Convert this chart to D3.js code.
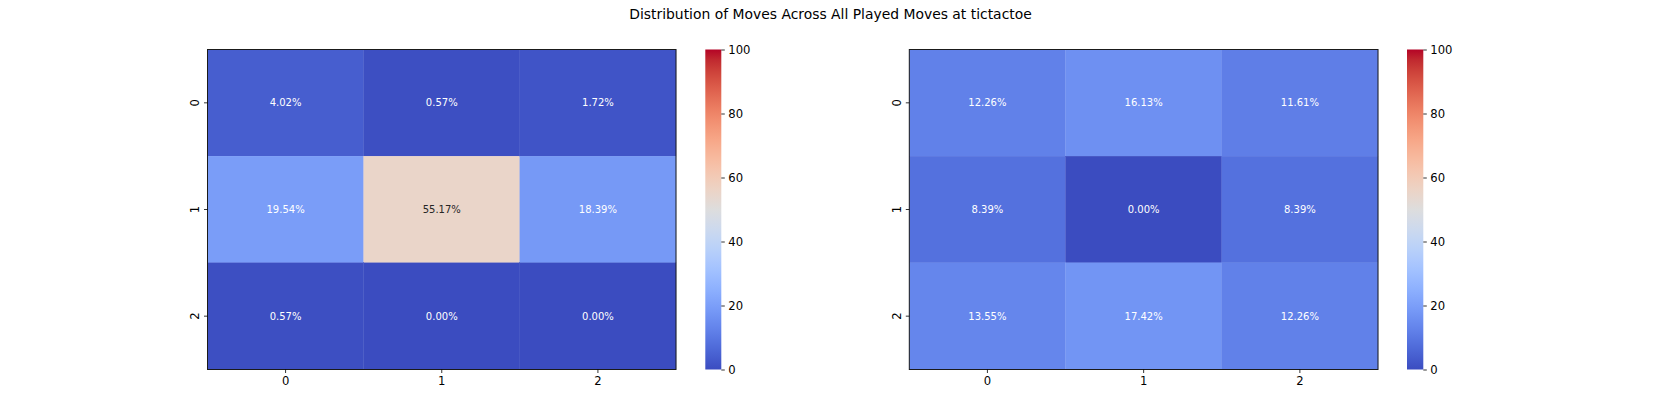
<!DOCTYPE html>
<html>
<head>
<meta charset="utf-8">
<script src="https://cdn.jsdelivr.net/npm/d3@7"></script>
<style>
  html, body { margin: 0; padding: 0; background: #fff; }
  svg { display: block; font-family: "DejaVu Sans", sans-serif; }
</style>
</head>
<body>
<svg id="chart" width="1661" height="415"></svg>
<script>
const title = "Distribution of Moves Across All Played Moves at tictactoe";
const rowLabels = ["0", "1", "2"];
const colLabels = ["0", "1", "2"];
const leftValues = [
  [4.02, 0.57, 1.72],
  [19.54, 55.17, 18.39],
  [0.57, 0.00, 0.00]
];
const rightValues = [
  [12.26, 16.13, 11.61],
  [8.39, 0.00, 8.39],
  [13.55, 17.42, 12.26]
];
const colorbarTicks = [0, 20, 40, 60, 80, 100];

// coolwarm colormap (Moreland) stops
const coolwarmStops = [
  [59,76,192],[68,90,204],[77,104,215],[87,117,225],[98,130,234],[108,142,241],
  [119,154,247],[130,165,251],[141,176,254],[152,185,255],[163,194,255],[174,201,253],
  [184,208,249],[194,213,244],[204,217,238],[213,219,230],[221,221,221],[229,216,209],
  [236,211,197],[241,204,185],[245,196,173],[247,187,160],[247,177,148],[247,166,135],
  [244,154,123],[241,141,111],[236,127,99],[229,112,88],[222,96,77],[213,80,66],
  [203,62,56],[192,40,47],[180,4,38]
].map(c => d3.rgb(c[0], c[1], c[2]).toString());
const coolwarm = d3.scaleLinear()
  .domain(coolwarmStops.map((_, i) => i / (coolwarmStops.length - 1)))
  .range(coolwarmStops)
  .interpolate(d3.interpolateRgb)
  .clamp(true);
const color = v => coolwarm(v / 100);

const svg = d3.select("#chart");

svg.append("text")
  .attr("x", 830.5).attr("y", 14)
  .attr("text-anchor", "middle").attr("dominant-baseline", "central")
  .attr("font-size", "13.9px").attr("fill", "#000")
  .text(title);

function luminance(c) {
  const rgb = d3.rgb(c);
  const f = x => { x /= 255; return x <= 0.03928 ? x / 12.92 : Math.pow((x + 0.055) / 1.055, 2.4); };
  return 0.2126 * f(rgb.r) + 0.7152 * f(rgb.g) + 0.0722 * f(rgb.b);
}

function drawHeatmap(values, x0, x1, cbX0, cbX1, gid) {
  const top = 49.5, bottom = 369.5;
  const g = svg.append("g").attr("id", gid);
  const x = d3.scaleBand().domain(colLabels).range([x0, x1]).padding(0);
  const y = d3.scaleBand().domain(rowLabels).range([top, bottom]).padding(0);

  const cells = [];
  values.forEach((row, r) => row.forEach((v, c) => cells.push({ r: rowLabels[r], c: colLabels[c], v })));

  g.selectAll("rect.cell").data(cells).enter().append("rect")
    .attr("class", "cell")
    .attr("x", d => x(d.c)).attr("y", d => y(d.r))
    .attr("width", x.bandwidth()).attr("height", y.bandwidth())
    .attr("fill", d => color(d.v))
    .attr("stroke", d => color(d.v)).attr("stroke-width", 0.3);

  g.selectAll("text.annot").data(cells).enter().append("text")
    .attr("class", "annot")
    .attr("x", d => x(d.c) + x.bandwidth() / 2)
    .attr("y", d => y(d.r) + y.bandwidth() / 2)
    .attr("text-anchor", "middle").attr("dominant-baseline", "central")
    .attr("font-size", "10px")
    .attr("fill", d => luminance(color(d.v)) > 0.408 ? "#262626" : "#ffffff")
    .text(d => d.v.toFixed(2) + "%");

  // frame
  g.append("rect")
    .attr("x", x0).attr("y", top).attr("width", x1 - x0).attr("height", bottom - top)
    .attr("fill", "none").attr("stroke", "#1a1a1a").attr("stroke-width", 1);

  // axes
  const xAxis = d3.axisBottom(x).tickSize(3.5).tickPadding(3.5);
  const gx = g.append("g").attr("transform", `translate(0,${bottom})`).call(xAxis);
  gx.select(".domain").remove();
  gx.selectAll("text").attr("font-size", "11.6px").attr("fill", "#000").attr("font-family", "DejaVu Sans");
  gx.selectAll("line").attr("stroke", "#000").attr("stroke-width", 0.8);

  const yAxis = d3.axisLeft(y).tickSize(3.5).tickPadding(3.5);
  const gy = g.append("g").attr("transform", `translate(${x0},0)`).call(yAxis);
  gy.select(".domain").remove();
  gy.selectAll("line").attr("stroke", "#000").attr("stroke-width", 0.8);
  gy.selectAll("text")
    .attr("font-size", "11.6px").attr("fill", "#000").attr("font-family", "DejaVu Sans")
    .attr("text-anchor", "middle").attr("dy", null)
    .attr("dominant-baseline", "central")
    .attr("x", null)
    .attr("transform", "translate(-12.5,0) rotate(-90)");

  // colorbar
  const cbScale = d3.scaleLinear().domain([0, 100]).range([bottom, top]);
  const gradId = gid + "-grad";
  const grad = svg.append("defs").append("linearGradient")
    .attr("id", gradId).attr("x1", 0).attr("y1", 1).attr("x2", 0).attr("y2", 0);
  coolwarmStops.forEach((c, i) => {
    grad.append("stop").attr("offset", i / (coolwarmStops.length - 1)).attr("stop-color", c);
  });
  g.append("rect")
    .attr("x", cbX0).attr("y", top).attr("width", cbX1 - cbX0).attr("height", bottom - top)
    .attr("fill", `url(#${gradId})`);
  const cbAxis = d3.axisRight(cbScale).tickValues(colorbarTicks).tickSize(3.5).tickPadding(3.5);
  const gc = g.append("g").attr("transform", `translate(${cbX1},0)`).call(cbAxis);
  gc.select(".domain").remove();
  gc.selectAll("line").attr("stroke", "#000").attr("stroke-width", 0.8);
  gc.selectAll("text").attr("font-size", "11.6px").attr("fill", "#000").attr("font-family", "DejaVu Sans");
}

drawHeatmap(leftValues, 207.5, 676, 705.3, 721.3, "left");
drawHeatmap(rightValues, 909.3, 1378, 1407, 1423.3, "right");
</script>
</body>
</html>
